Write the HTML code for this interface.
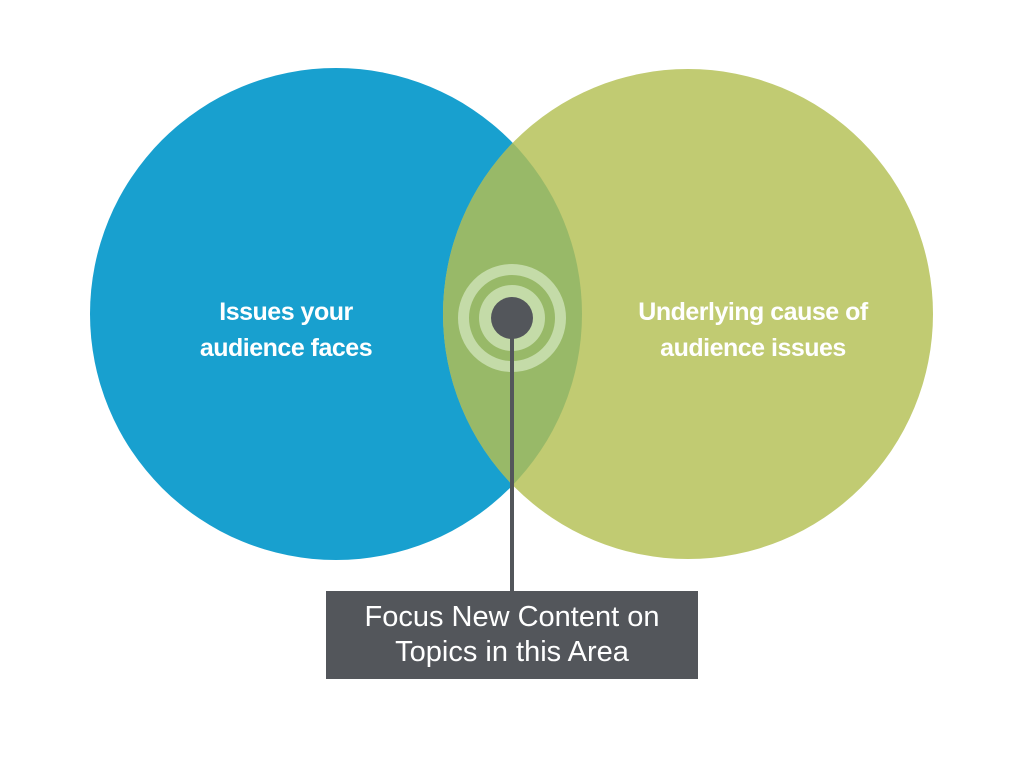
<!DOCTYPE html>
<html><head><style>
html,body{margin:0;padding:0;background:#fff;width:1024px;height:768px;overflow:hidden}
</style></head><body>
<svg width="1024" height="768" viewBox="0 0 1024 768" xmlns="http://www.w3.org/2000/svg">
<defs><clipPath id="cb"><circle cx="336" cy="314" r="246"/></clipPath></defs>
<circle cx="336" cy="314" r="246" fill="#18a0cf"/>
<circle cx="688" cy="314" r="245" fill="#c1cb72"/>
<circle cx="688" cy="314" r="245" fill="#98b968" clip-path="url(#cb)"/>
<circle cx="512" cy="318" r="48.5" fill="none" stroke="#c4dba8" stroke-width="11"/>
<circle cx="512" cy="318" r="33" fill="#c4dba8"/>
<circle cx="512" cy="318" r="21" fill="#53565b"/>
<rect x="510" y="318" width="4" height="274" fill="#53565b"/>
<rect x="326" y="591" width="372" height="88" fill="#53565b"/>
<g font-family="Liberation Sans, sans-serif" fill="#fff" text-anchor="middle">
<text x="286" y="320" font-size="25" font-weight="bold" letter-spacing="-0.5">Issues your</text>
<text x="286" y="356" font-size="25" font-weight="bold" letter-spacing="-0.5">audience faces</text>
<text x="753" y="320" font-size="25" font-weight="bold" letter-spacing="-0.5">Underlying cause of</text>
<text x="753" y="356" font-size="25" font-weight="bold" letter-spacing="-0.5">audience issues</text>
<text x="512" y="626" font-size="29">Focus New Content on</text>
<text x="512" y="661" font-size="29">Topics in this Area</text>
</g>
</svg>
</body></html>
